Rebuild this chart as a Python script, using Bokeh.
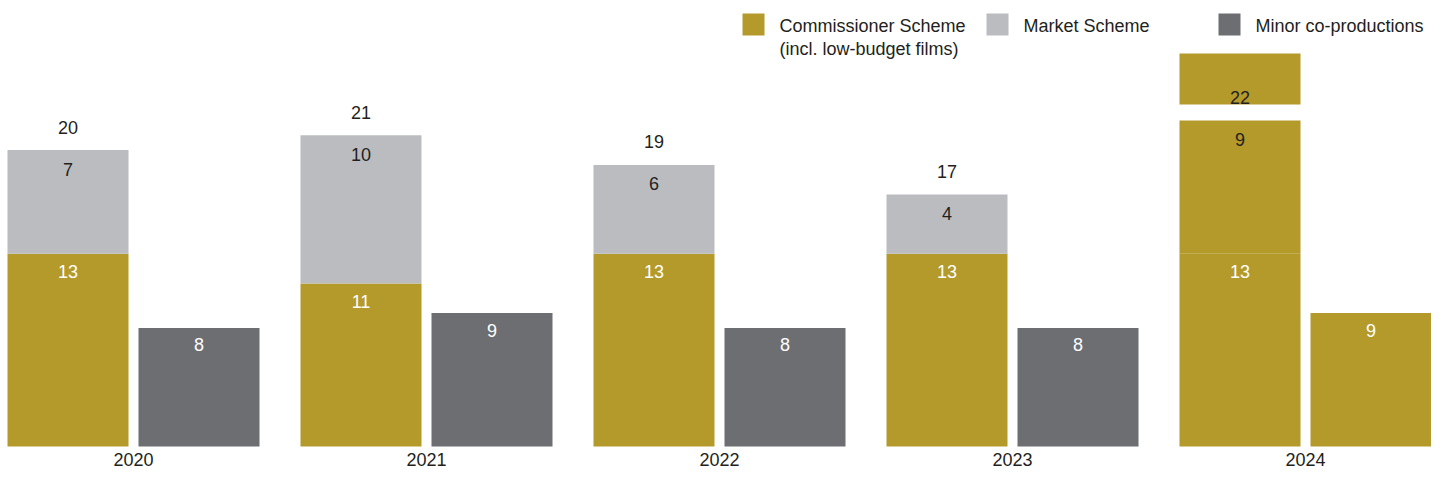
from bokeh.plotting import figure
from bokeh.models import Range1d
from bokeh.core.properties import value
from bokeh.embed import file_html
from bokeh.resources import INLINE

# ---- data ----
years = ["2020", "2021", "2022", "2023", "2024"]
commissioner = [13, 11, 13, 13, 13]
market = [7, 10, 6, 4, 9]
minor = [8, 9, 8, 8, 9]
legend_labels = ["Commissioner Scheme", "(incl. low-budget films)", "Market Scheme", "Minor co-productions"]

# ---- styles ----
GOLD = "#B49A2B"
LIGHT = "#BBBCC0"
DARK = "#6D6E72"
INK = "#231F20"
FONT = value("Liberation Sans")
FS = "18px"
market_colors = [LIGHT] * 4 + [GOLD]
minor_colors = [DARK] * 4 + [GOLD]

W, H = 1431, 472
FIRST_CENTER = 133.0   # px of first group centre
GROUP_PX = 293.0       # px between group centres
BASE_PX = 446.0        # px of value 0 from the top
UNIT_PX = 14.82        # px per unit on the value axis
BAR_W = 121 / GROUP_PX
OFF = 65.5 / GROUP_PX

x0 = -FIRST_CENTER / GROUP_PX
x1 = x0 + W / GROUP_PX
y1 = BASE_PX / UNIT_PX
y0 = y1 - H / UNIT_PX


def rx(px):
    return x0 + px / GROUP_PX


def ry(py):
    return (BASE_PX - py) / UNIT_PX


def dy(px):
    return px / UNIT_PX


totals = [c + m for c, m in zip(commissioner, market)]
idx = list(range(len(years)))
stack_x = [i - OFF for i in idx]
minor_x = [i + OFF for i in idx]

p = figure(width=W, height=H, x_range=Range1d(x0, x1), y_range=Range1d(y0, y1),
           output_backend="svg", toolbar_location=None, min_border=0,
           x_axis_type=None, y_axis_type=None, outline_line_color=None,
           background_fill_color="white", border_fill_color="white")
p.grid.visible = False

# bars
p.vbar(x=stack_x, bottom=0, top=commissioner, width=BAR_W, fill_color=GOLD, line_color=None)
p.vbar(x=stack_x, bottom=commissioner, top=totals, width=BAR_W, fill_color=market_colors, line_color=None)
p.vbar(x=minor_x, bottom=0, top=minor, width=BAR_W, fill_color=minor_colors, line_color=None)

# highlight box behind the last total
last = len(years) - 1
p.quad(left=[stack_x[last] - BAR_W / 2], right=[stack_x[last] + BAR_W / 2],
       bottom=[totals[last] + dy(16)], top=[totals[last] + dy(67)],
       fill_color=GOLD, line_color=None)

common = dict(text_font=FONT, text_font_size=FS, text_align="center", text_baseline="middle")
p.text(x=stack_x, y=[c - dy(18) for c in commissioner], text=[str(v) for v in commissioner],
       text_color="white", **common)
p.text(x=stack_x, y=[t - dy(19) for t in totals], text=[str(v) for v in market],
       text_color=INK, **common)
p.text(x=stack_x, y=[t + dy(23) for t in totals], text=[str(v) for v in totals],
       text_color=INK, **common)
p.text(x=minor_x, y=[m - dy(17) for m in minor], text=[str(v) for v in minor],
       text_color="white", **common)
p.text(x=idx, y=[ry(459)] * len(years), text=years, text_color=INK, **common)

# legend
sq_left = [742, 986, 1218]
sq_colors = [GOLD, LIGHT, DARK]
p.quad(left=[rx(v) for v in sq_left], right=[rx(v + 22) for v in sq_left],
       top=[ry(13)] * 3, bottom=[ry(35)] * 3, fill_color=sq_colors, line_color=None)
p.text(x=[rx(779), rx(779), rx(1023), rx(1255)], y=[ry(25), ry(48), ry(25), ry(25)],
       text=legend_labels, text_color=INK, text_font=FONT, text_font_size=FS,
       text_align="left", text_baseline="middle")

open("out.html", "w").write(file_html(p, INLINE))
